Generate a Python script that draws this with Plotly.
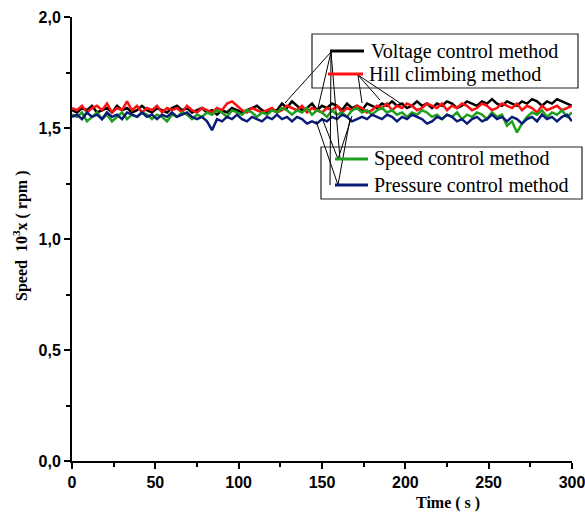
import plotly.graph_objects as go

time_s = list(range(0, 301, 3))

voltage = [1.58,1.57,1.59,1.58,1.60,1.57,1.58,1.59,1.57,1.60,1.58,1.59,1.57,1.58,1.60,1.58,1.57,1.59,1.58,1.57,1.59,
           1.60,1.58,1.59,1.57,1.58,1.59,1.57,1.58,1.56,1.58,1.57,1.59,1.58,1.57,1.58,1.59,1.60,1.58,1.57,1.58,
           1.58,1.61,1.59,1.62,1.60,1.58,1.59,1.61,1.58,1.60,1.59,1.61,1.60,1.58,1.61,1.59,1.60,1.58,1.61,1.60,
           1.59,1.61,1.60,1.62,1.60,1.61,1.59,1.60,1.62,1.60,1.61,1.59,1.61,1.60,1.62,1.61,1.59,1.60,1.62,1.61,
           1.60,1.62,1.61,1.63,1.61,1.60,1.62,1.61,1.60,1.62,1.61,1.63,1.62,1.60,1.62,1.61,1.63,1.62,1.61,1.60]
hill = [1.59,1.58,1.60,1.57,1.59,1.60,1.58,1.61,1.57,1.59,1.58,1.62,1.58,1.60,1.57,1.59,1.58,1.60,1.57,1.59,1.58,
        1.59,1.57,1.60,1.58,1.57,1.59,1.58,1.57,1.59,1.58,1.61,1.62,1.60,1.58,1.57,1.59,1.58,1.57,1.58,1.59,
        1.57,1.58,1.60,1.59,1.58,1.60,1.57,1.59,1.58,1.57,1.59,1.58,1.60,1.57,1.59,1.58,1.60,1.59,1.57,1.58,
        1.60,1.59,1.61,1.58,1.60,1.59,1.61,1.60,1.58,1.59,1.61,1.60,1.59,1.61,1.58,1.60,1.59,1.61,1.60,1.58,
        1.59,1.61,1.60,1.58,1.59,1.61,1.60,1.59,1.61,1.58,1.60,1.59,1.57,1.60,1.58,1.59,1.60,1.58,1.59,1.60]
speed = [1.56,1.55,1.57,1.53,1.55,1.57,1.54,1.56,1.53,1.55,1.57,1.54,1.56,1.55,1.57,1.56,1.54,1.56,1.55,1.53,1.56,
         1.55,1.57,1.56,1.54,1.56,1.55,1.57,1.56,1.58,1.57,1.55,1.58,1.57,1.56,1.58,1.57,1.55,1.57,1.56,1.58,
         1.57,1.59,1.58,1.56,1.58,1.57,1.59,1.56,1.58,1.57,1.55,1.58,1.56,1.57,1.55,1.58,1.59,1.57,1.58,1.56,
         1.58,1.59,1.57,1.58,1.56,1.57,1.55,1.57,1.56,1.58,1.57,1.55,1.56,1.54,1.56,1.55,1.57,1.54,1.56,1.55,
         1.57,1.56,1.54,1.57,1.55,1.56,1.51,1.53,1.48,1.52,1.55,1.57,1.56,1.58,1.55,1.57,1.56,1.58,1.55,1.57]
pressure = [1.55,1.56,1.54,1.57,1.55,1.56,1.54,1.57,1.55,1.56,1.54,1.57,1.56,1.55,1.57,1.55,1.56,1.54,1.56,1.55,1.57,
            1.55,1.56,1.57,1.55,1.54,1.55,1.53,1.49,1.54,1.53,1.55,1.54,1.56,1.54,1.53,1.55,1.54,1.53,1.55,1.54,
            1.56,1.54,1.55,1.53,1.55,1.54,1.52,1.53,1.52,1.54,1.53,1.55,1.54,1.56,1.55,1.53,1.54,1.55,1.54,1.56,
            1.55,1.54,1.56,1.55,1.53,1.55,1.54,1.56,1.55,1.54,1.52,1.53,1.55,1.54,1.56,1.55,1.53,1.54,1.52,1.54,
            1.55,1.53,1.54,1.56,1.54,1.55,1.53,1.55,1.54,1.52,1.54,1.55,1.53,1.56,1.54,1.55,1.53,1.55,1.56,1.53]

series_names = ["Voltage control method", "Hill climbing method",
                "Speed control method", "Pressure control method"]
series_colors = ["#000000", "#ff1010", "#1ea01e", "#0a1a78"]
series_values = [voltage, hill, speed, pressure]

W, H = 585, 514
L, R, T, B = 72, 13, 17, 53
pw, ph = W - L - R, H - T - B

def px(x, y):
    return (x - L) / pw, (H - B - y) / ph

fig = go.Figure()
for name, col, vals in zip(series_names, series_colors, series_values):
    fig.add_trace(go.Scatter(x=time_s, y=vals, mode="lines", name=name,
                             line=dict(color=col, width=2.5), showlegend=False))

shapes = []
def line(x0, y0, x1, y1, color="black", width=1):
    a, b = px(x0, y0)
    c, d = px(x1, y1)
    shapes.append(dict(type="line", xref="paper", yref="paper", x0=a, y0=b, x1=c, y1=d,
                       line=dict(color=color, width=width)))

def rect(x0, y0, x1, y1):
    a, b = px(x0, y0)
    c, d = px(x1, y1)
    shapes.append(dict(type="rect", xref="paper", yref="paper", x0=a, y0=b, x1=c, y1=d,
                       line=dict(color="#222222", width=1.2), fillcolor="rgba(0,0,0,0)"))

# pointer lines
B0 = (331, 52); R0 = (358, 75); S0 = (338, 159); P0 = (338, 185)
for tx, ty in [(285, 103), (318, 108), (340, 159), (330, 185)]:
    line(*B0, tx, ty)
for tx, ty in [(362, 103), (380, 100), (406, 107)]:
    line(*R0, tx, ty)
for tx, ty in [(322, 118), (352, 116)]:
    line(*S0, tx, ty)
for tx, ty in [(316, 121), (350, 119)]:
    line(*P0, tx, ty)

rect(312, 34, 578, 88)
rect(321, 147, 582, 199)
line(330, 51, 364, 51, series_colors[0], 3)
line(328, 74, 363, 74, series_colors[1], 3)
line(335, 159, 368, 159, series_colors[2], 3)
line(335, 185, 368, 185, series_colors[3], 3)

annotations = []
for name, (x, y) in zip(series_names, [(369, 51), (367, 74), (372, 159), (372, 185)]):
    a, b = px(x, y)
    annotations.append(dict(xref="paper", yref="paper", x=a, y=b, xanchor="left", yanchor="middle",
                            text=name, showarrow=False,
                            font=dict(family="Liberation Serif", size=20, color="black")))
a, b = px(448, 503)
annotations.append(dict(xref="paper", yref="paper", x=a, y=b, xanchor="center", yanchor="middle",
                        text="<b>Time ( s )</b>", showarrow=False,
                        font=dict(family="Liberation Serif", size=16, color="black")))
a, b = px(21, 236)
annotations.append(dict(xref="paper", yref="paper", x=a, y=b, xanchor="center", yanchor="middle",
                        text="<b>Speed  10<sup>3</sup>x ( rpm )</b>", showarrow=False, textangle=-90,
                        font=dict(family="Liberation Serif", size=16, color="black")))

fig.update_layout(
    width=W, height=H, margin=dict(l=L, r=R, t=T, b=B, autoexpand=False),
    paper_bgcolor="white", plot_bgcolor="white",
    separators=",.",
    shapes=shapes, annotations=annotations,
    xaxis=dict(range=[0, 300], showgrid=False, zeroline=False, showline=True, linecolor="black",
               linewidth=2, ticks="outside", ticklen=6, tickwidth=2, tickcolor="black", dtick=50,
               automargin=False, ticklabeloverflow="allow",
               tickfont=dict(family="Liberation Sans", size=16, color="black", weight="bold"),
               minor=dict(ticks="outside", ticklen=4, tickwidth=2, tickcolor="black", dtick=25)),
    yaxis=dict(range=[0, 2], showgrid=False, zeroline=False, showline=True, linecolor="black",
               linewidth=2, ticks="outside", ticklen=6, tickwidth=2, tickcolor="black", dtick=0.5,
               tickformat=".1f", automargin=False, ticklabeloverflow="allow",
               tickfont=dict(family="Liberation Sans", size=16, color="black", weight="bold"),
               minor=dict(ticks="outside", ticklen=4, tickwidth=2, tickcolor="black", dtick=0.25)),
)

fig.write_html("out.html", config={"displayModeBar": False},
               post_script="document.body.style.margin='0';document.body.style.overflow='hidden';")
